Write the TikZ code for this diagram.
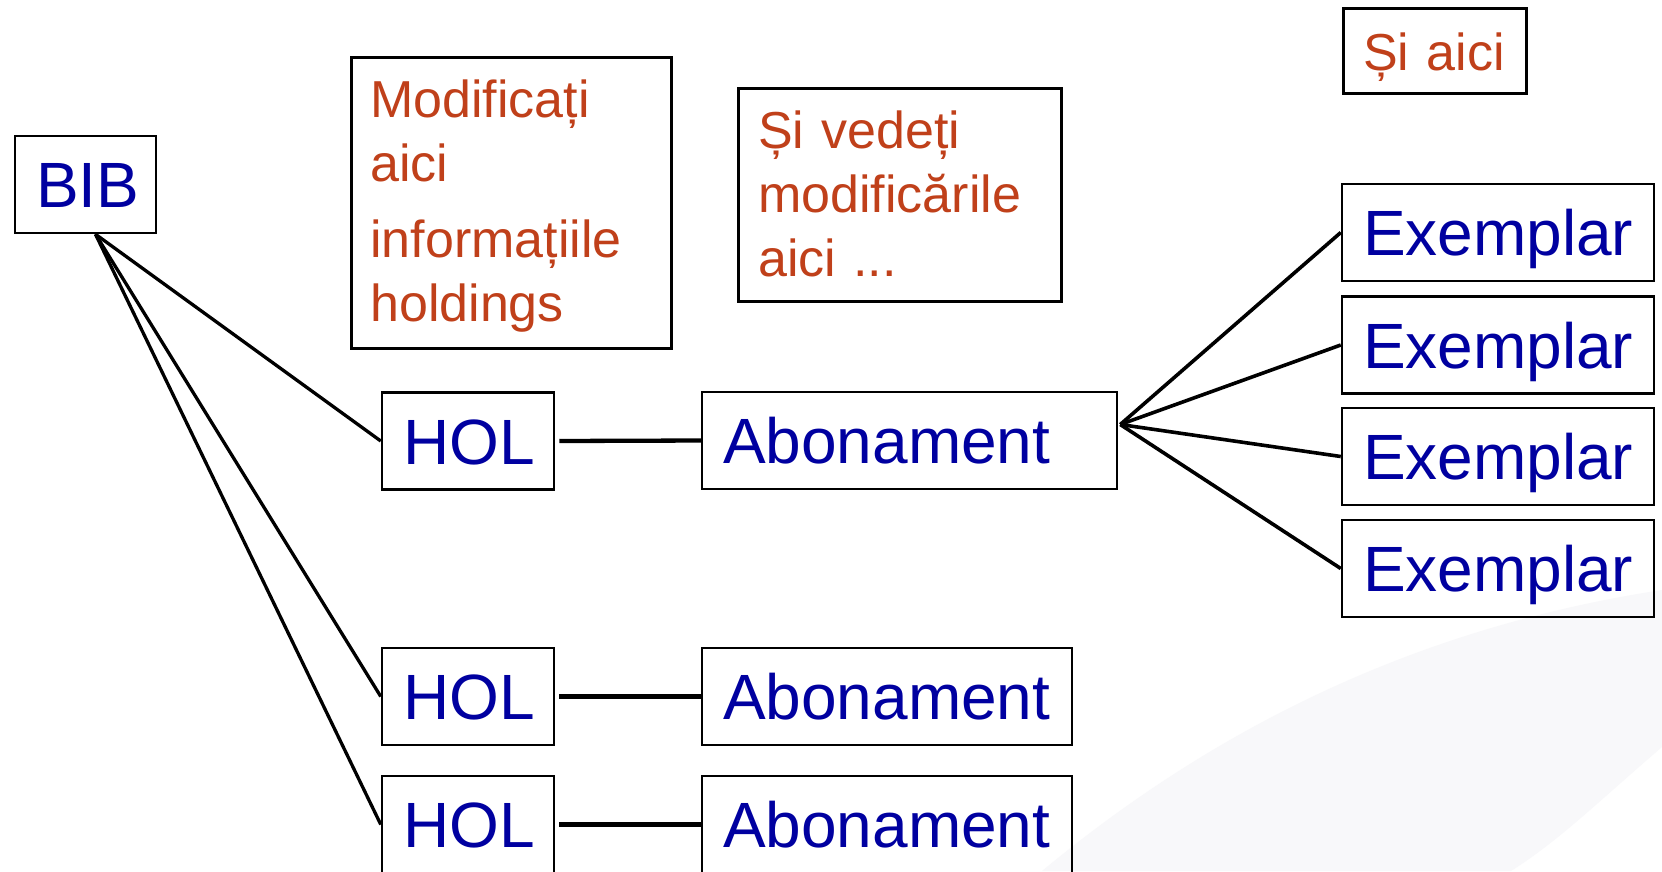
\documentclass[tikz,border=0pt]{standalone}
\usepackage{fontspec}
\setmainfont{Liberation Sans}
\definecolor{bibblue}{RGB}{0,0,160}
\definecolor{notered}{RGB}{192,64,26}
\definecolor{swoosh}{RGB}{248,248,250}
\tikzset{
  blubox/.style={draw, line width=2.5pt, text=bibblue, font=\fontsize{64}{76}\selectfont,
    inner xsep=21pt, inner ysep=0pt, minimum height=97pt, text height=46pt, text depth=0pt,
    align=left, text width=#1},
  redframe/.style={draw, line width=2.5pt, anchor=north west, inner sep=0pt},
  redtext/.style={text=notered, font=\fontsize{52}{64}\selectfont, anchor=base west,
    inner sep=0pt, align=left, text width=#1},
  link/.style={line width=3.3pt},
  fatlink/.style={line width=4.3pt},
  hublink/.style={line width=3.6pt}
}
\begin{document}
\begin{tikzpicture}[x=1pt,y=-1pt]
  \fill[white] (0,0) rectangle (1662,871);
  \useasboundingbox (0,0) rectangle (1662,871);
  \fill[swoosh] (1042,871) .. controls (1200,740) and (1400,630) .. (1662,590)
    -- (1662,747) .. controls (1600,800) and (1560,840) .. (1511,871) -- cycle;

  % notes
  \node[redframe, minimum width=320, minimum height=291] (modbox) at (350,56) {};
  \node[redtext=290] (modtxt) at ([shift={(20,61)}]modbox.north west)
    {Modificați\\aici\\[12pt]informațiile\\holdings};
  \node[redframe, minimum width=323, minimum height=213] (vedbox) at (737,87) {};
  \node[redtext=290] (vedtxt) at ([shift={(21,61)}]vedbox.north west)
    {Și vedeți\\modificările\\aici ...};
  \node[redframe, minimum width=183, minimum height=85] (aicibox) at (1342,7) {};
  \node[redtext=150] (aicitxt) at ([shift={(21,63)}]aicibox.north west) {Și aici};

  % records
  \node[blubox=99] (bib) at (85.5,184.5) {BIB};
  \node[blubox=130] (hol1) at (468,441) {HOL};
  \node[blubox=130] (hol2) at (468,696.5) {HOL};
  \node[blubox=130] (hol3) at (468,824.5) {HOL};
  \node[blubox=373] (abon1) at (909.5,440.5) {Abonament};
  \node[blubox=328] (abon2) at (887,696.5) {Abonament};
  \node[blubox=328] (abon3) at (887,824.5) {Abonament};
  \node[blubox=270] (ex1) at (1498,232.5) {Exemplar};
  \node[blubox=270] (ex2) at (1498,345) {Exemplar};
  \node[blubox=270] (ex3) at (1498,456.5) {Exemplar};
  \node[blubox=270] (ex4) at (1498,568.5) {Exemplar};

  \coordinate (bibfoot) at ([xshift=10pt]bib.south);
  \draw[link] (bibfoot) -- (hol1.west);
  \draw[link] (bibfoot) -- (hol2.west);
  \draw[link] (bibfoot) -- (hol3.west);
  \draw[fatlink] ([xshift=4pt]hol1.east) -- (abon1.west);
  \draw[fatlink] ([xshift=4pt]hol2.east) -- (abon2.west);
  \draw[fatlink] ([xshift=4pt]hol3.east) -- (abon3.west);
  \coordinate (abonhub) at ([shift={(2,-16)}]abon1.east);
  \draw[hublink] (abonhub) -- (ex1.west);
  \draw[hublink] (abonhub) -- (ex2.west);
  \draw[hublink] (abonhub) -- (ex3.west);
  \draw[hublink] (abonhub) -- (ex4.west);
\end{tikzpicture}
\end{document}
